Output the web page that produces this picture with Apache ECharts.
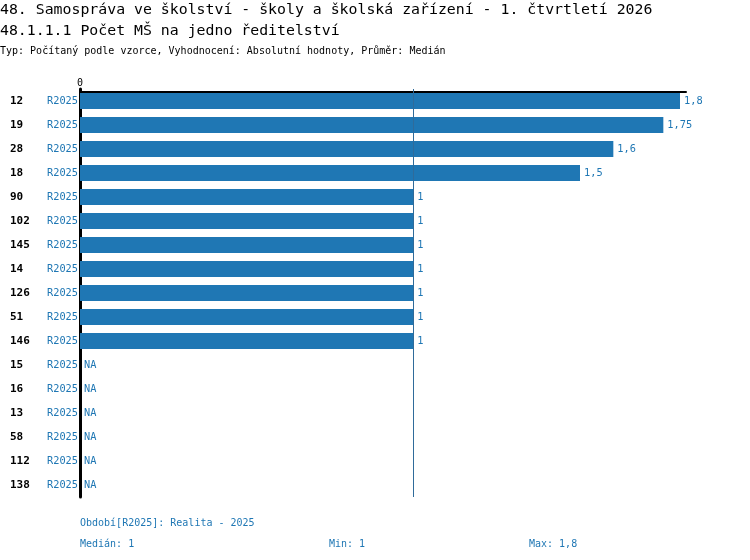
<!DOCTYPE html>
<html>
<head>
<meta charset="utf-8">
<script src="https://cdn.jsdelivr.net/npm/echarts@6/dist/echarts.min.js"></script>
<style>
  html, body { margin: 0; padding: 0; background: #fff; }
  #chart { width: 750px; height: 560px; }
</style>
</head>
<body>
<div id="chart"></div>
<script>
// data
const categories = ['12', '19', '28', '18', '90', '102', '145', '14', '126', '51', '146', '15', '16', '13', '58', '112', '138'];
const period = 'R2025';
const values = [1.8, 1.75, 1.6, 1.5, 1, 1, 1, 1, 1, 1, 1, null, null, null, null, null, null];
const medianValue = 1;
const minValue = 1;
const maxValue = 1.8;

const mono = 'DejaVu Sans Mono';
const blue = '#1f77b4';
const fmt = v => String(v).replace('.', ',');

const chart = echarts.init(document.getElementById('chart'));

// NA rows: transparent zero bar so the "NA" label still sits at the axis
const barData = values.map(v => v === null
  ? { value: 0, itemStyle: { color: 'rgba(0,0,0,0)' }, label: { formatter: 'NA' } }
  : v);

const tStyle = (size, color) => ({ fontFamily: mono, fontSize: size, fontWeight: 'normal', color: color });

const option = {
  animation: false,
  textStyle: { fontFamily: mono },
  title: [
    { text: '48. Samospráva ve školství - školy a školská zařízení - 1. čtvrtletí 2026',
      left: 0, top: 3, padding: 0, textStyle: tStyle(14.85, '#000') },
    { text: '48.1.1.1 Počet MŠ na jedno ředitelství',
      left: 0, top: 24, padding: 0, textStyle: tStyle(14.85, '#000') },
    { text: 'Typ: Počítaný podle vzorce, Vyhodnocení: Absolutní hodnoty, Průměr: Medián',
      left: 0, top: 46, padding: 0, textStyle: tStyle(10, '#000') },
    { text: 'Období[' + period + ']: Realita - 2025',
      left: 80, top: 518, padding: 0, textStyle: tStyle(10, blue) },
    { text: 'Medián: ' + fmt(medianValue),
      left: 80, top: 539, padding: 0, textStyle: tStyle(10, blue) },
    { text: 'Min: ' + fmt(minValue),
      left: 329, top: 539, padding: 0, textStyle: tStyle(10, blue) },
    { text: 'Max: ' + fmt(maxValue),
      left: 529, top: 539, padding: 0, textStyle: tStyle(10, blue) }
  ],
  grid: { left: 80, right: 64, top: 89, bottom: 63 },
  xAxis: {
    type: 'value',
    position: 'top',
    offset: -3,
    min: 0,
    max: 1.818,
    interval: 1.818,
    splitLine: { show: false },
    axisTick: { show: false },
    axisLine: { show: true, lineStyle: { color: '#000', width: 2 } },
    axisLabel: {
      margin: 4,
      fontFamily: mono, fontSize: 10, color: '#000',
      formatter: v => (v === 0 ? '0' : '')
    }
  },
  yAxis: {
    type: 'category',
    inverse: true,
    data: categories,
    axisTick: { show: false },
    axisLine: { show: true, lineStyle: { color: '#000', width: 3 } },
    axisLabel: {
      margin: 2,
      formatter: v => '{c|' + v + '}{p|' + period + '}',
      rich: {
        c: { width: 36, align: 'left', fontFamily: mono, fontSize: 11, fontWeight: 'bold', color: '#000' },
        p: { width: 32, align: 'right', fontFamily: mono, fontSize: 10.3, color: blue }
      }
    }
  },
  series: [{
    type: 'bar',
    data: barData,
    barWidth: 16,
    itemStyle: { color: blue },
    label: {
      show: true,
      position: 'right',
      distance: 4,
      fontFamily: mono,
      fontSize: 10.3,
      color: blue,
      formatter: p => fmt(p.value)
    },
    markLine: {
      silent: true,
      symbol: 'none',
      label: { show: false },
      lineStyle: { color: '#2f6b9a', width: 1, type: 'solid' },
      data: [{ xAxis: medianValue }]
    }
  }]
};

chart.setOption(option);
</script>
</body>
</html>
